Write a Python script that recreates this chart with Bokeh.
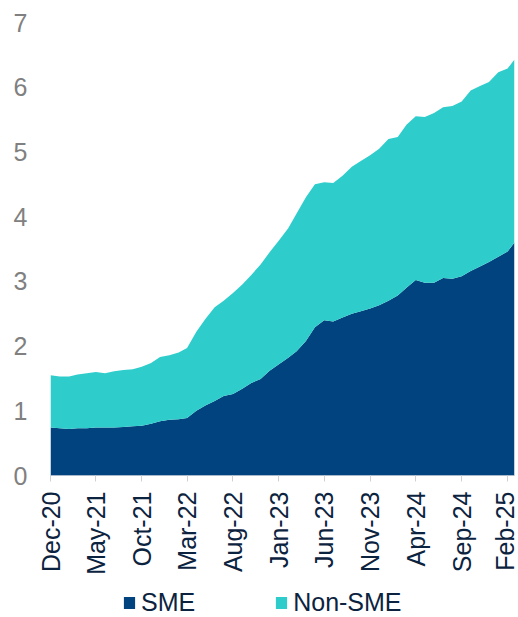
import math
import pandas as pd
from bokeh.plotting import figure
from bokeh.layouts import column
from bokeh.models import (ColumnDataSource, Range1d, FixedTicker,
                          DatetimeTickFormatter, Legend, LegendItem)
from bokeh.embed import file_html
from bokeh.resources import INLINE

# Monthly observations, Dec-20 .. Feb-25, plus the latest reading
dates = pd.date_range("2020-12-01", "2025-02-01", freq="MS").strftime("%Y-%m-%d").tolist() + ["2025-02-24"]

sme = [0.74, 0.73, 0.72, 0.73, 0.73, 0.74, 0.74, 0.74, 0.75, 0.76,
       0.77, 0.80, 0.84, 0.86, 0.87, 0.89, 1.00, 1.08, 1.15, 1.23,
       1.26, 1.34, 1.43, 1.49, 1.62, 1.72, 1.82, 1.92, 2.08, 2.29,
       2.40, 2.38, 2.44, 2.50, 2.54, 2.58, 2.63, 2.70, 2.78, 2.90,
       3.02, 2.98, 2.98, 3.05, 3.04, 3.08, 3.16, 3.23, 3.30, 3.38,
       3.46, 3.60]

non_sme = [0.81, 0.80, 0.81, 0.83, 0.85, 0.86, 0.84, 0.87, 0.88, 0.88,
           0.91, 0.94, 0.99, 1.00, 1.03, 1.08, 1.22, 1.34, 1.45, 1.47,
           1.56, 1.61, 1.67, 1.77, 1.83, 1.91, 2.00, 2.13, 2.22, 2.21,
           2.13, 2.14, 2.19, 2.27, 2.32, 2.37, 2.42, 2.50, 2.45, 2.52,
           2.53, 2.56, 2.62, 2.64, 2.67, 2.70, 2.79, 2.79, 2.78, 2.85,
           2.83, 2.83]

tick_dates = ["2020-12-01", "2021-05-01", "2021-10-01", "2022-03-01",
              "2022-08-01", "2023-01-01", "2023-06-01", "2023-11-01",
              "2024-04-01", "2024-09-01", "2025-02-01"]
y_ticks = [0, 1, 2, 3, 4, 5, 6, 7]

series_names = ["SME", "Non-SME"]
colors = ["#00437f", "#2ecdcc"]

FONT = "Liberation Sans"

src = ColumnDataSource(dict(date=pd.to_datetime(dates), sme=sme, non_sme=non_sme))

p = figure(width=518, height=577, output_backend="svg", toolbar_location=None,
           x_axis_type="datetime",
           x_range=Range1d(pd.Timestamp(dates[0]), pd.Timestamp(dates[-1])),
           y_range=Range1d(0, 7),
           min_border_left=50, min_border_right=4, min_border_top=22,
           min_border_bottom=100)

areas = p.varea_stack(["sme", "non_sme"], x="date", source=src, color=colors)

p.xgrid.visible = False
p.ygrid.visible = False
p.outline_line_color = None
p.background_fill_color = "white"
p.border_fill_color = "white"

# y axis: grey numbers, no line or ticks
ya = p.yaxis[0]
ya.ticker = FixedTicker(ticks=y_ticks)
ya.axis_line_color = None
ya.major_tick_line_color = None
ya.minor_tick_line_color = None
ya.major_tick_out = 0
ya.major_tick_in = 0
ya.major_label_standoff = 23
ya.major_label_text_color = "#808080"
ya.major_label_text_font = FONT
ya.major_label_text_font_size = "25px"

# x axis: vertical month labels every five months
xa = p.xaxis[0]
xa.ticker = FixedTicker(ticks=[pd.Timestamp(d).value / 1e6 for d in tick_dates])
fmt = "%b-%y"
xa.formatter = DatetimeTickFormatter(milliseconds=fmt, seconds=fmt, minsec=fmt,
                                     minutes=fmt, hourmin=fmt, hours=fmt,
                                     days=fmt, months=fmt, years=fmt)
xa.major_label_orientation = math.pi / 2
xa.axis_line_color = "#a8b8cc"
xa.axis_line_width = 1
xa.major_tick_line_color = "#d0d0d0"
xa.major_tick_out = 6
xa.major_tick_in = 0
xa.minor_tick_line_color = None
xa.major_label_standoff = 10
xa.major_label_text_color = "#0c2340"
xa.major_label_text_font = FONT
xa.major_label_text_font_size = "25px"

# legend strip underneath the chart
lg = figure(width=518, height=40, output_backend="svg", toolbar_location=None,
            x_range=Range1d(0, 1), y_range=Range1d(0, 1),
            min_border=0, outline_line_color=None)
lg.axis.visible = False
lg.grid.visible = False
swatches = [lg.varea(x=[0, 1], y1=[0, 0], y2=[0, 0], color=c) for c in colors]

legend = Legend(items=[LegendItem(label=n, renderers=[r]) for n, r in zip(series_names, swatches)],
                orientation="horizontal", location=(72, 0),
                glyph_width=14, glyph_height=15, label_standoff=5, spacing=79,
                padding=0, margin=0, border_line_color=None,
                background_fill_alpha=0,
                label_text_font=FONT, label_text_font_size="25px",
                label_text_color="#0c2340")
lg.add_layout(legend, "center")

open("out.html", "w").write(file_html(column(p, lg, spacing=0), INLINE))
